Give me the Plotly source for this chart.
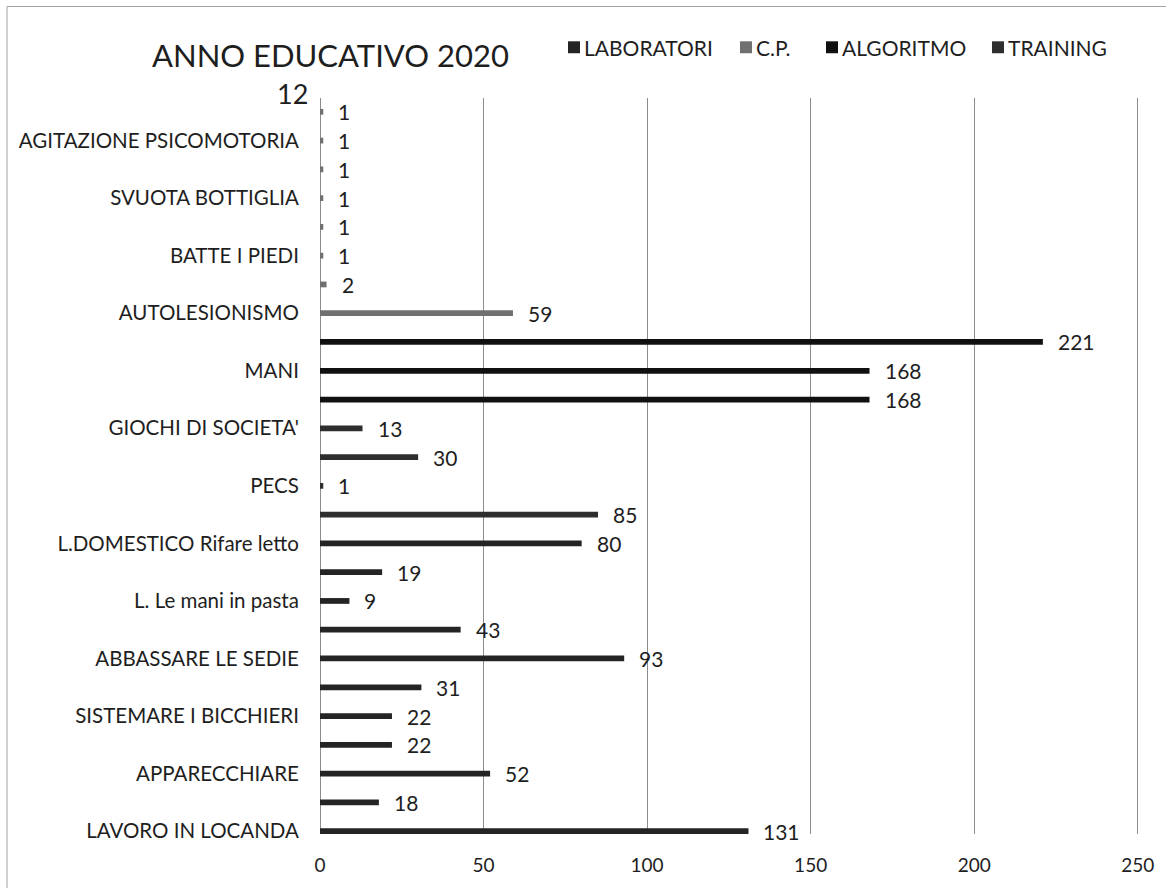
import plotly.graph_objects as go

# Category labels, top to bottom (Excel shows only every other label)
labels = [
    "", "AGITAZIONE PSICOMOTORIA", "", "SVUOTA BOTTIGLIA", "", "BATTE I PIEDI",
    "", "AUTOLESIONISMO", "", "MANI", "", "GIOCHI DI SOCIETA'", "", "PECS",
    "", "L.DOMESTICO Rifare letto", "", "L. Le mani in pasta", "",
    "ABBASSARE LE SEDIE", "", "SISTEMARE I BICCHIERI", "", "APPARECCHIARE",
    "", "LAVORO IN LOCANDA",
]
values = [1, 1, 1, 1, 1, 1, 2, 59, 221, 168, 168, 13, 30, 1, 85, 80, 19, 9,
          43, 93, 31, 22, 22, 52, 18, 131]
series_of_bar = (["C.P."] * 8 + ["ALGORITMO"] * 3 + ["TRAINING"] * 4
                 + ["LABORATORI"] * 11)
series_names = ["LABORATORI", "C.P.", "ALGORITMO", "TRAINING"]
series_colors = {"LABORATORI": "#242424", "C.P.": "#707070",
                 "ALGORITMO": "#101010", "TRAINING": "#2e2e2e"}
x_ticks = [0, 50, 100, 150, 200, 250]
title_text = "ANNO EDUCATIVO 2020"
stray_label = "12"

FONT = "Lato"
TXT = "#1e1e1e"
n = len(values)
ypos = [n - 1 - i for i in range(n)]

# plot-area geometry in pixels (used for paper-coordinate placement)
W, H = 1166, 888
X_MAX = 251
L, T, B = 320, 98, 838
R = L + round(818 * X_MAX / 250)


def px_x(p):
    return (p - L) / (R - L)


def px_y(p):
    return (B - p) / (B - T)


fig = go.Figure()
for s in series_names:
    xs = [v for v, g in zip(values, series_of_bar) if g == s]
    ys = [y for y, g in zip(ypos, series_of_bar) if g == s]
    fig.add_trace(go.Bar(
        x=xs, y=ys, orientation="h", name=s, width=0.2,
        marker=dict(color=series_colors[s], line=dict(width=0)),
        showlegend=False, hoverinfo="x+name",
    ))

annotations = []
# value labels beside each bar
for v, y in zip(values, ypos):
    annotations.append(dict(
        x=v, y=y, xref="x", yref="y", text=str(v), showarrow=False,
        xanchor="left", yanchor="middle", xshift=13,
        font=dict(family=FONT, size=21, color=TXT),
    ))

# title
annotations.append(dict(
    x=px_x(150), y=px_y(55), xref="paper", yref="paper", text=title_text,
    showarrow=False, xanchor="left", yanchor="middle",
    font=dict(family=FONT, size=31, color=TXT),
))
# stray label near the top of the axis
annotations.append(dict(
    x=px_x(292), y=px_y(93), xref="paper", yref="paper", text=stray_label,
    showarrow=False, xanchor="center", yanchor="middle",
    font=dict(family=FONT, size=27, color=TXT),
))

# legend drawn as squares + text
shapes = []
legend_left = {"LABORATORI": 568, "C.P.": 740, "ALGORITMO": 826, "TRAINING": 992}
leg_y = 47
for s in series_names:
    x0 = legend_left[s]
    shapes.append(dict(
        type="rect", xref="paper", yref="paper",
        x0=px_x(x0), x1=px_x(x0 + 12), y0=px_y(leg_y + 6), y1=px_y(leg_y - 6),
        fillcolor=series_colors[s], line=dict(width=0),
    ))
    annotations.append(dict(
        x=px_x(x0 + 14), y=px_y(leg_y), xref="paper", yref="paper", text=s,
        showarrow=False, xanchor="left", yanchor="middle",
        font=dict(family=FONT, size=21, color=TXT),
    ))

# outer chart frame
shapes.append(dict(
    type="rect", xref="paper", yref="paper",
    x0=px_x(7), x1=px_x(W + 10), y0=px_y(H + 10), y1=px_y(6),
    line=dict(color="#a0a0a0", width=1), fillcolor="rgba(0,0,0,0)", layer="below",
))

tick_idx = [i for i, lab in enumerate(labels) if lab]

fig.update_layout(
    width=W, height=H,
    margin=dict(l=L, r=W - R, t=T, b=H - B, pad=0),
    paper_bgcolor="white", plot_bgcolor="white",
    barmode="overlay",
    showlegend=False,
    annotations=annotations,
    shapes=shapes,
    font=dict(family=FONT, color=TXT),
    xaxis=dict(
        range=[0, X_MAX], tickvals=x_ticks, ticktext=[str(t) for t in x_ticks],
        showgrid=True, gridcolor="#8c8c8c", gridwidth=1,
        zeroline=True, zerolinecolor="#8c8c8c", zerolinewidth=1,
        showline=False, ticks="outside", ticklen=14, tickcolor="rgba(0,0,0,0)",
        tickfont=dict(family=FONT, size=19, color=TXT), fixedrange=True,
    ),
    yaxis=dict(
        range=[-0.1, n - 1 + 0.48],
        tickvals=[ypos[i] for i in tick_idx],
        ticktext=[labels[i] for i in tick_idx],
        showgrid=False, zeroline=False, showline=False,
        ticks="outside", ticklen=16, tickcolor="rgba(0,0,0,0)",
        tickfont=dict(family=FONT, size=20.5, color=TXT), fixedrange=True,
    ),
)

fig.write_html("out.html")
